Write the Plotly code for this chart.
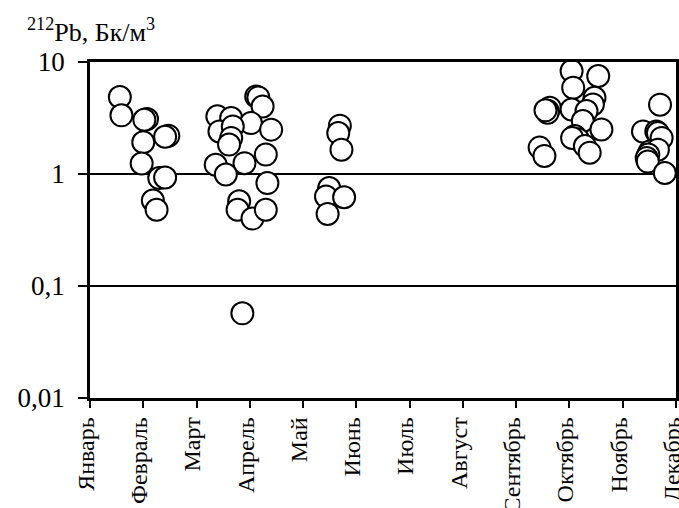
import plotly.graph_objects as go

# Month labels (tick positions 0..11 = Jan..Dec)
months = ["Январь", "Февраль", "Март", "Апрель", "Май", "Июнь",
          "Июль", "Август", "Сентябрь", "Октябрь", "Ноябрь", "Декабрь"]
month_idx = list(range(12))

# Y tick labels
y_tickvals = [0.01, 0.1, 1, 10]
y_ticktext = ["0,01", "0,1", "1", "10"]

# Jan-Feb group (x = fractional month index, y = 212Pb, Bq/m3)
x_feb = [0.56, 0.59, 1.07, 1.02, 1.00, 1.47, 1.41, 0.97, 1.30, 1.41, 1.18, 1.25]
y_feb = [4.87, 3.34, 3.10, 3.05, 1.92, 2.20, 2.15, 1.24, 0.92, 0.93, 0.58, 0.48]

# April group
x_apr = [3.12, 3.16, 3.24, 2.39, 2.65, 3.02, 3.40, 2.43, 2.68, 2.65, 2.61,
         3.30, 2.90, 2.36, 2.55, 3.33, 2.80, 2.77, 3.05, 3.30, 2.86]
y_apr = [4.93, 4.83, 4.01, 3.27, 3.16, 2.85, 2.49, 2.40, 2.66, 2.10, 1.83,
         1.49, 1.25, 1.21, 0.99, 0.83, 0.57, 0.48, 0.40, 0.48, 0.057]

# June group
x_jun = [4.69, 4.66, 4.72, 4.49, 4.43, 4.77, 4.46]
y_jun = [2.70, 2.32, 1.65, 0.75, 0.63, 0.62, 0.44]

# October group
x_oct = [9.04, 9.54, 9.07, 9.47, 9.44, 8.63, 8.59, 8.59, 8.55, 9.04, 9.32,
         9.25, 9.60, 9.10, 9.16, 9.05, 9.29, 9.38, 8.44, 8.53]
y_oct = [8.31, 7.50, 5.90, 4.80, 4.18, 3.91, 3.67, 3.53, 3.70, 3.77, 3.65,
         2.97, 2.50, 2.18, 2.04, 2.10, 1.78, 1.55, 1.72, 1.45]

# December group
x_dec = [10.70, 10.38, 10.63, 10.66, 10.73, 10.51, 10.66, 10.48, 10.45, 10.47, 10.79]
y_dec = [4.16, 2.40, 2.40, 2.32, 2.10, 1.59, 1.65, 1.49, 1.39, 1.29, 1.02]

x_all = x_feb + x_apr + x_jun + x_oct + x_dec
y_all = y_feb + y_apr + y_jun + y_oct + y_dec

FONT = "Liberation Serif, Times New Roman, serif"

fig = go.Figure()
fig.add_trace(go.Scatter(
    x=x_all, y=y_all, mode="markers",
    marker=dict(size=22, color="white", line=dict(color="black", width=2)),
    showlegend=False, hoverinfo="skip",
))

fig.update_layout(
    width=679, height=508,
    margin=dict(l=90, r=3, t=62, b=110),
    paper_bgcolor="white", plot_bgcolor="white",
    font=dict(family=FONT, size=24, color="black"),
    title=dict(text="<sup>212</sup>Pb, Бк/м<sup>3</sup>",
               xref="container", yref="container",
               x=27 / 679, xanchor="left", y=1 - 32 / 508, yanchor="middle",
               font=dict(family=FONT, size=26, color="black")),
)

fig.update_xaxes(
    range=[0, 11], tickvals=month_idx, ticktext=months, tickangle=-90,
    showgrid=False, zeroline=False,
    showline=True, mirror=True, linecolor="black", linewidth=2.5,
    ticks="outside", ticklen=7, tickwidth=1.5, tickcolor="black",
    tickfont=dict(family=FONT, size=24, color="black"),
    ticklabeloverflow="allow", ticklabelshift=-4,
    automargin=False,
)
fig.update_yaxes(
    type="log", range=[-2, 1], tickvals=y_tickvals, ticktext=y_ticktext,
    showgrid=True, gridcolor="black", gridwidth=2, zeroline=False,
    showline=True, mirror=True, linecolor="black", linewidth=2.5,
    ticks="outside", ticklen=9, tickwidth=1.5, tickcolor="black",
    tickfont=dict(family=FONT, size=27, color="black"),
    ticklabelstandoff=8, ticklabeloverflow="allow",
    automargin=False,
)

fig.write_html("out.html",
               config={"displayModeBar": False},
               post_script="document.body.style.margin='0';"
                           "document.body.style.overflow='hidden';")
